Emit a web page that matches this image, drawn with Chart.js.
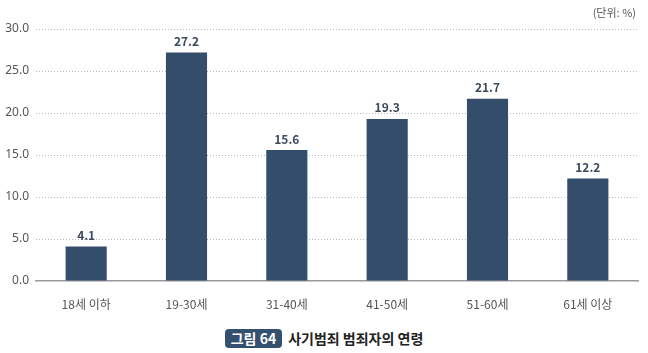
<!DOCTYPE html>
<html>
<head>
<meta charset="utf-8">
<script src="https://cdn.jsdelivr.net/npm/chart.js@4"></script>
<style>
  body { margin: 0; background: #fff; font-family: "Noto Sans CJK KR", "Noto Sans", sans-serif; }
  #wrap { position: relative; width: 648px; height: 353px; }
  #box { position: absolute; left: 0; top: 0; width: 648px; height: 310px; }
  #unit { position: absolute; right: 12px; top: 4px; font-size: 11px; color: #555; }
  #caption { position: absolute; left: 0; top: 328px; width: 648px; text-align: center; font-size: 14px; font-weight: bold; color: #222; }
  #caption .badge { display: inline-block; background: #34506f; color: #fff; border-radius: 4px; padding: 0 6px; margin-right: 6px; line-height: 19px; font-weight: bold; }
</style>
</head>
<body>
<div id="wrap">
  <div id="box"><canvas id="chart"></canvas></div>
  <div id="unit">(단위: %)</div>
  <div id="caption"><span class="badge">그림 64</span>사기범죄 범죄자의 연령</div>
</div>
<script>
// categories and values
const ageGroups = ['18세 이하', '19-30세', '31-40세', '41-50세', '51-60세', '61세 이상'];
const shares = [4.1, 27.2, 15.6, 19.3, 21.7, 12.2];
const yTicks = [0, 5, 10, 15, 20, 25, 30];

// draw value above each bar
const valueLabels = {
  id: 'valueLabels',
  afterDatasetsDraw(chart) {
    const ctx = chart.ctx;
    const meta = chart.getDatasetMeta(0);
    ctx.save();
    ctx.font = 'bold 12px "Noto Sans CJK KR", sans-serif';
    ctx.fillStyle = '#3b4a5c';
    ctx.textAlign = 'center';
    ctx.textBaseline = 'bottom';
    meta.data.forEach((bar, i) => {
      ctx.fillText(shares[i].toFixed(1), bar.x, bar.y - 5);
    });
    ctx.restore();
  }
};

new Chart(document.getElementById('chart'), {
  type: 'bar',
  data: {
    labels: ageGroups,
    datasets: [{
      data: shares,
      backgroundColor: '#344d6b',
      categoryPercentage: 1,
      barPercentage: 0.41
    }]
  },
  options: {
    responsive: true,
    maintainAspectRatio: false,
    animation: false,
    layout: { padding: { top: 29, right: 10, left: 0, bottom: 0 } },
    plugins: { legend: { display: false }, tooltip: { enabled: false } },
    scales: {
      x: {
        grid: { display: false },
        border: { color: '#999', width: 1.5 },
        ticks: { color: '#555', padding: 8, font: { size: 12, family: '"Noto Sans CJK KR", sans-serif' } },
        afterFit(scale) { scale.height = 29; }
      },
      y: {
        min: 0,
        max: 30,
        afterBuildTicks(scale) { scale.ticks = yTicks.map(v => ({ value: v })); },
        grid: {
          drawTicks: false,
          color: ctx => ctx.tick.value === 0 ? 'rgba(0,0,0,0)' : '#bbb',
          lineWidth: 1
        },
        border: { display: false, dash: [1, 2] },
        ticks: {
          color: '#555',
          padding: 7,
          font: { size: 12, family: '"Noto Sans", sans-serif' },
          callback: v => v.toFixed(1)
        },
        afterFit(scale) { scale.width = 36; }
      }
    }
  },
  plugins: [valueLabels]
});
</script>
</body>
</html>
